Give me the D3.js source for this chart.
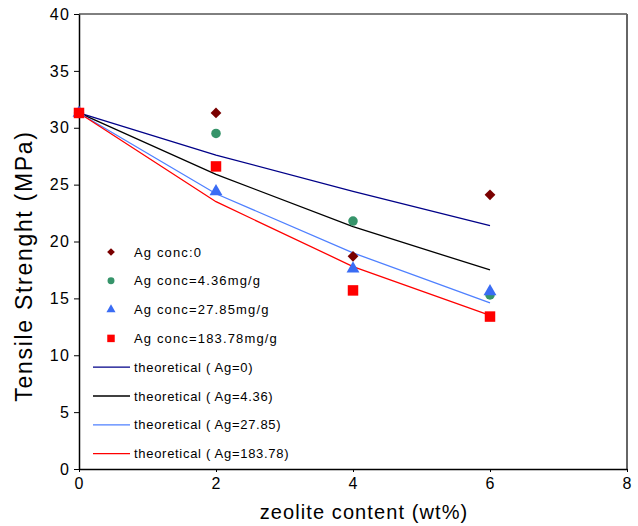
<!DOCTYPE html>
<html>
<head>
<meta charset="utf-8">
<script src="https://cdn.jsdelivr.net/npm/d3@7"></script>
<style>
  body { margin: 0; background: #fff; }
  text { font-family: "Liberation Sans", Arial, sans-serif; }
</style>
</head>
<body>
<svg id="chart" width="638" height="526"></svg>
<script>
// zeolite content (wt%)
const zeolite = [0, 2, 4, 6];

// measured tensile strength (MPa)
const agConc0 = [31.3, 31.3, 18.7, 24.1];
const agConc436 = [31.3, 29.5, 21.8, 15.3];
const agConc2785 = [31.3, 24.4, 17.6, 15.6];
const agConc18378 = [31.3, 26.6, 15.7, 13.4];

// theoretical curves
const theo0 = [31.3, 27.6, 24.4, 21.4];
const theo436 = [31.3, 25.9, 21.3, 17.5];
const theo2785 = [31.3, 24.2, 19.0, 14.6];
const theo18378 = [31.3, 23.5, 17.8, 13.5];

const xTicks = [0, 2, 4, 6, 8];
const yTicks = [0, 5, 10, 15, 20, 25, 30, 35, 40];

// diamond drawn as a square turned 45deg (wider than d3.symbolDiamond)
const pointSeries = [
    { name: 'Ag conc:0', values: agConc0, shape: d3.symbolSquare, rot: 45, color: '#7a0000', size: 58, legendSize: 30 },
    { name: 'Ag conc=4.36mg/g', values: agConc436, shape: d3.symbolCircle, rot: 0, color: '#36946a', size: 72, legendSize: 38 },
    { name: 'Ag conc=27.85mg/g', values: agConc2785, shape: d3.symbolTriangle, rot: 0, color: '#3a6cf4', size: 72, legendSize: 36 },
    { name: 'Ag conc=183.78mg/g', values: agConc18378, shape: d3.symbolSquare, rot: 0, color: '#ff0000', size: 110, legendSize: 56 }
];
const lineSeries = [
    { name: 'theoretical ( Ag=0)', values: theo0, color: '#000088' },
    { name: 'theoretical ( Ag=4.36)', values: theo436, color: '#000000' },
    { name: 'theoretical ( Ag=27.85)', values: theo2785, color: '#4f80ff' },
    { name: 'theoretical ( Ag=183.78)', values: theo18378, color: '#ff0000' }
];

const margin = { top: 14, left: 79, right: 11, bottom: 57 };
const width = 638;
const height = 526;
const plotW = width - margin.left - margin.right;
const plotH = height - margin.top - margin.bottom;

const x = d3.scaleLinear().domain([0, 8]).range([0, plotW]);
const y = d3.scaleLinear().domain([0, 40]).range([plotH, 0]);

const svg = d3.select('#chart');
const g = svg.append('g')
    .attr('transform', 'translate(' + margin.left + ',' + margin.top + ')');

// frame: top and right
g.append('line')
    .attr('x1', 0).attr('x2', plotW).attr('y1', 0).attr('y2', 0)
    .attr('stroke', '#000').attr('stroke-width', 1);
g.append('line')
    .attr('x1', plotW).attr('x2', plotW).attr('y1', 0).attr('y2', plotH)
    .attr('stroke', '#666').attr('stroke-width', 2);

// axes
const xAxis = d3.axisBottom(x).tickValues(xTicks).tickSizeInner(3).tickSizeOuter(0).tickPadding(6);
const yAxis = d3.axisLeft(y).tickValues(yTicks).tickSizeInner(5).tickSizeOuter(0).tickPadding(4);

const gx = g.append('g').attr('transform', 'translate(0,' + plotH + ')').call(xAxis);
const gy = g.append('g').call(yAxis);
[gx, gy].forEach((ax) => {
    ax.select('.domain').attr('stroke', '#000').attr('stroke-width', 1.5);
    ax.selectAll('.tick line').attr('stroke', '#000');
    ax.selectAll('.tick text')
        .attr('fill', '#000')
        .attr('font-size', 16)
        .attr('letter-spacing', 1.2)
        .style('font-family', '"Liberation Sans", Arial, sans-serif');
});

// axis titles
svg.append('text')
    .attr('x', 364)
    .attr('y', 519)
    .attr('text-anchor', 'middle')
    .attr('font-size', 20)
    .attr('letter-spacing', 1.1)
    .attr('fill', '#000')
    .text('zeolite content (wt%)');

svg.append('text')
    .attr('transform', 'translate(32,266) rotate(-90)')
    .attr('text-anchor', 'middle')
    .attr('font-size', 23)
    .attr('letter-spacing', 1.7)
    .attr('fill', '#000')
    .text('Tensile Strenght (MPa)');

// theoretical lines
const line = d3.line()
    .x((d, i) => x(zeolite[i]))
    .y((d) => y(d));

lineSeries.forEach((s) => {
    g.append('path')
        .datum(s.values)
        .attr('fill', 'none')
        .attr('stroke', s.color)
        .attr('stroke-width', 1.3)
        .attr('d', line);
});

// measured points
pointSeries.forEach((s) => {
    const sym = d3.symbol().type(s.shape).size(s.size);
    g.selectAll(null)
        .data(s.values)
        .enter()
        .append('path')
        .attr('d', sym)
        .attr('fill', s.color)
        .attr('transform', (d, i) => 'translate(' + x(zeolite[i]) + ',' + y(d) + ') rotate(' + s.rot + ')');
});

// legend
const legendX = 111;
const legendTextX = 134;
const legendTop = 252;
const legendStep = 28.8;

const legend = svg.append('g');
pointSeries.forEach((s, i) => {
    const ly = legendTop + i * legendStep;
    legend.append('path')
        .attr('d', d3.symbol().type(s.shape).size(s.legendSize))
        .attr('fill', s.color)
        .attr('transform', 'translate(' + legendX + ',' + ly + ') rotate(' + s.rot + ')');
    legend.append('text')
        .attr('x', legendTextX)
        .attr('y', ly + 4.5)
        .attr('font-size', 13)
        .attr('letter-spacing', 1.15)
        .attr('fill', '#000')
        .text(s.name);
});
lineSeries.forEach((s, i) => {
    const ly = legendTop + (i + 4) * legendStep;
    legend.append('line')
        .attr('x1', 93).attr('x2', 130)
        .attr('y1', ly).attr('y2', ly)
        .attr('stroke', s.color)
        .attr('stroke-width', 1.3);
    legend.append('text')
        .attr('x', legendTextX)
        .attr('y', ly + 4.5)
        .attr('font-size', 13)
        .attr('letter-spacing', 0.7)
        .attr('fill', '#000')
        .text(s.name);
});
</script>
</body>
</html>
